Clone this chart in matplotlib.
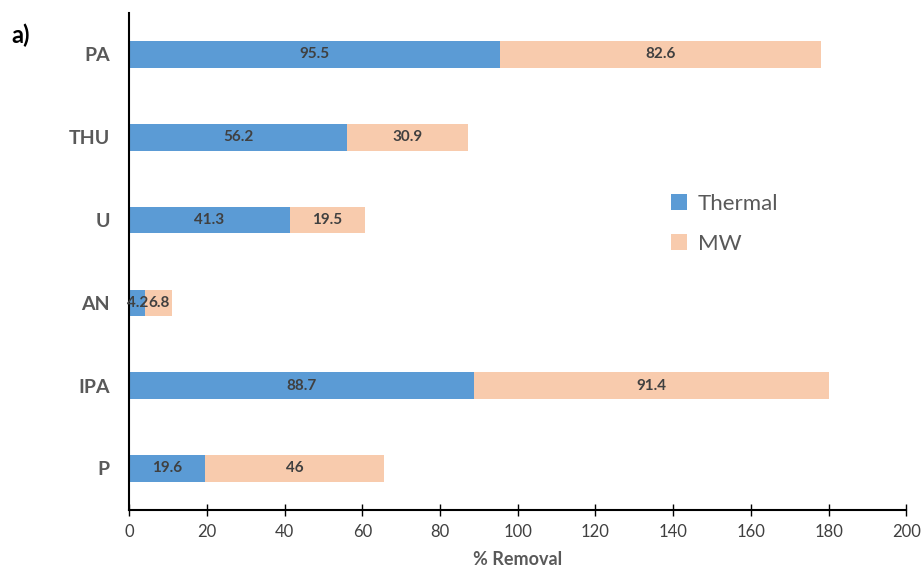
import matplotlib
matplotlib.use("Agg")
import matplotlib.pyplot as plt

categories = ["PA", "THU", "U", "AN", "IPA", "P"]
thermal = [95.5, 56.2, 41.3, 4.2, 88.7, 19.6]
mw = [82.6, 30.9, 19.5, 6.8, 91.4, 46]
xticks = [0, 20, 40, 60, 80, 100, 120, 140, 160, 180, 200]

plt.rcParams['font.family'] = ['Lato', 'DejaVu Sans']

fig = plt.figure(figsize=(9.22, 5.69), dpi=100)
ax = fig.add_axes([0.14, 0.104, 0.843, 0.873])

ypos = list(range(len(categories)))[::-1]
h = 0.32
b1 = ax.barh(ypos, thermal, height=h, color="#5B9BD5", label="Thermal")
b2 = ax.barh(ypos, mw, left=thermal, height=h, color="#F8CBAD", label="MW")

for y, t, m in zip(ypos, thermal, mw):
    ax.text(t / 2, y, f"{t:g}", ha="center", va="center", fontsize=11,
            fontweight="bold", color="#404040")
    ax.text(t + m / 2, y, f"{m:g}", ha="center", va="center", fontsize=11,
            fontweight="bold", color="#404040")

ax.set_xlim(0, 200)
ax.set_ylim(-0.5, 5.5)
ax.set_xticks(xticks)
ax.set_xticklabels([str(v) for v in xticks], fontsize=12, color="#404040")
ax.set_yticks(ypos)
ax.set_yticklabels(categories, fontsize=14, fontweight="bold", color="#595959")
ax.tick_params(axis="y", length=0, pad=14)
ax.tick_params(axis="x", direction="inout", length=8, width=1, color="black", pad=6)

for s in ["top", "right"]:
    ax.spines[s].set_visible(False)
ax.spines["left"].set_linewidth(1.5)
ax.spines["bottom"].set_linewidth(1.5)

ax.set_xlabel("% Removal", fontsize=13, fontweight="bold", color="#595959", labelpad=8)

fig.text(0.012, 0.925, "a)", fontsize=17, fontweight="bold", color="black")

ax.legend(loc="upper left", bbox_to_anchor=(0.672, 0.676), frameon=False,
          fontsize=16, handlelength=0.7, handleheight=0.7, labelspacing=0.9,
          handletextpad=0.5, labelcolor="#595959")

fig.savefig("out.png", dpi=100)
